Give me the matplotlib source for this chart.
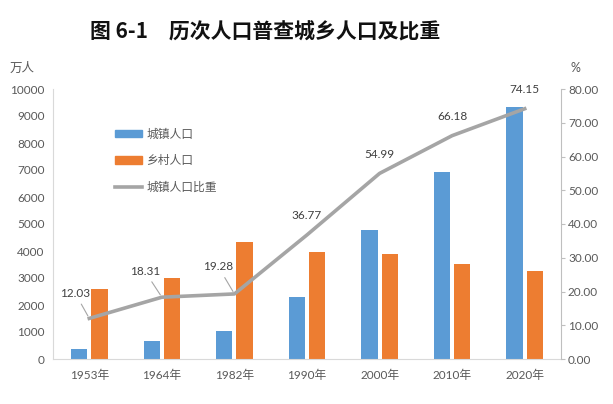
import matplotlib
matplotlib.use("Agg")
import matplotlib.pyplot as plt
import numpy as np
from matplotlib.patches import Patch
from matplotlib.lines import Line2D

plt.rcParams['font.family'] = ['Lato', 'Noto Sans CJK SC', 'DejaVu Sans']

years = ["1953年", "1964年", "1982年", "1990年", "2000年", "2010年", "2020年"]
urban = [355, 672, 1030, 2308, 4767, 6910, 9344]
rural = [2600, 3011, 4345, 3975, 3900, 3530, 3257]
ratio = [12.03, 18.31, 19.28, 36.77, 54.99, 66.18, 74.15]
left_ticks = list(range(0, 10001, 1000))
right_ticks = [0, 10, 20, 30, 40, 50, 60, 70, 80]

blue = "#5B9BD5"
orange = "#ED7D31"
gray = "#A5A5A5"
txt = "#595959"

W, H = 613, 404
fig = plt.figure(figsize=(W / 100, H / 100), dpi=100)
ax = fig.add_axes([53 / W, 1 - 359 / H, (561 - 53) / W, (359 - 89) / H])
ax2 = ax.twinx()
ax2.set_zorder(ax.get_zorder() + 1)
ax2.patch.set_visible(False)

x = np.arange(len(years))
bw = 0.225
ax.bar(x - 0.14, urban, width=bw, color=blue, zorder=2)
ax.bar(x + 0.14, rural, width=bw, color=orange, zorder=2)
ax.set_xlim(-0.5, len(years) - 0.5)
ax.set_ylim(0, 10000)
ax.set_yticks(left_ticks)
ax.set_xticks(x)
ax.set_xticklabels(years)
ax.tick_params(axis='y', length=0, labelsize=8.5, labelcolor=txt, pad=6)
ax.tick_params(axis='x', length=0, labelsize=8.5, labelcolor=txt, pad=8)

ax2.plot(x, ratio, color=gray, lw=2.6, solid_joinstyle='round')
ax2.set_ylim(0, 80)
ax2.set_yticks(right_ticks)
ax2.set_yticklabels([f"{v:.2f}" for v in right_ticks])
ax2.tick_params(axis='y', length=3, width=0.8, color="#BFBFBF", labelsize=8.5, labelcolor=txt, pad=2)

for a in (ax, ax2):
    for s in a.spines.values():
        s.set_visible(False)
ax.spines['left'].set_visible(True)
ax.spines['left'].set_color("#D9D9D9")
ax.spines['bottom'].set_visible(True)
ax.spines['bottom'].set_color("#D9D9D9")
ax2.spines['right'].set_visible(True)
ax2.spines['right'].set_color("#BFBFBF")

offsets = [(-14, 25), (-17, 26), (-16, 27), (0, 19), (0, 19), (0, 19), (0, 19)]
for i, (v, off) in enumerate(zip(ratio, offsets)):
    if i < 3:
        ax2.annotate(f"{v:.2f}", (x[i], v), xytext=off, textcoords='offset pixels',
                     ha='center', va='center', fontsize=8.5, color="#404040",
                     arrowprops=dict(arrowstyle='-', color=gray, lw=0.8, shrinkA=2, shrinkB=2))
    else:
        ax2.annotate(f"{v:.2f}", (x[i], v), xytext=off, textcoords='offset pixels',
                     ha='center', va='center', fontsize=8.5, color="#404040")

handles = [Patch(color=blue), Patch(color=orange), Line2D([0], [0], color=gray, lw=2.6)]
labels = ["城镇人口", "乡村人口", "城镇人口比重"]
leg = ax2.legend(handles, labels, loc='upper left', bbox_to_anchor=(104 / W, 1 - 117 / H),
                 bbox_transform=fig.transFigure, frameon=False,
                 handlelength=2.3, handleheight=0.6, labelspacing=1.15,
                 handletextpad=0.4, prop={'family': ['Noto Sans CJK SC'], 'size': 8.5})
for t in leg.get_texts():
    t.set_color(txt)

fig.text(265 / W, 1 - 32 / H, "图 6-1　历次人口普查城乡人口及比重", ha='center', va='center',
         fontsize=15, fontweight='bold', color="#111111", family=['Noto Sans CJK SC', 'DejaVu Sans'])
fig.text(22 / W, 1 - 68 / H, "万人", ha='center', va='center', fontsize=9, color=txt,
         family=['Noto Sans CJK SC'])
fig.text(575 / W, 1 - 68 / H, "%", ha='center', va='center', fontsize=9, color=txt)

fig.savefig("out.png", dpi=100)
